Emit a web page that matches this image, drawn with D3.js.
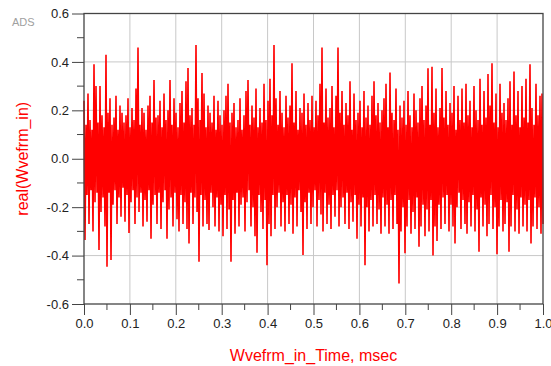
<!DOCTYPE html>
<html>
<head>
<meta charset="utf-8">
<title>Wvefrm_in</title>
<script src="https://d3js.org/d3.v7.min.js"></script>
<style>
  body { margin: 0; background: #fff; }
  svg { display: block; font-family: "Liberation Sans", Arial, sans-serif; }
</style>
</head>
<body>
<svg width="551" height="366"></svg>
<script>
// x ticks (msec) and y ticks
var xTicks = [0, 0.1, 0.2, 0.3, 0.4, 0.5, 0.6, 0.7, 0.8, 0.9, 1.0];
var yTicks = [-0.6, -0.4, -0.2, 0.0, 0.2, 0.4, 0.6];

// positive excursions (even samples)
var peaksHi = [
  0.24, 0.14, 0.27, 0.16, 0.12, 0.39, 0.30, 0.15, 0.30, 0.18,
  0.13, 0.43, 0.19, 0.25, 0.14, 0.17, 0.26, 0.12, 0.22, 0.19,
  0.15, 0.18, 0.25, 0.13, 0.21, 0.16, 0.29, 0.46, 0.14, 0.21,
  0.19, 0.12, 0.22, 0.26, 0.15, 0.325, 0.17, 0.18, 0.24, 0.13,
  0.27, 0.16, 0.20, 0.325, 0.14, 0.25, 0.19, 0.13, 0.23, 0.28,
  0.15, 0.32, 0.375, 0.18, 0.21, 0.14, 0.47, 0.25, 0.16, 0.354,
  0.27, 0.13, 0.22, 0.19, 0.15, 0.26, 0.12, 0.24, 0.18, 0.14,
  0.20, 0.26, 0.31, 0.15, 0.19, 0.23, 0.13, 0.16, 0.25, 0.12,
  0.18, 0.28, 0.325, 0.14, 0.22, 0.17, 0.29, 0.13, 0.21, 0.15,
  0.31, 0.16, 0.24, 0.33, 0.18, 0.47, 0.25, 0.14, 0.28, 0.19,
  0.13, 0.26, 0.17, 0.22, 0.394, 0.15, 0.28, 0.12, 0.21, 0.19,
  0.27, 0.14, 0.23, 0.16, 0.26, 0.13, 0.24, 0.18, 0.31, 0.46,
  0.15, 0.29, 0.17, 0.21, 0.30, 0.13, 0.26, 0.46, 0.19, 0.28,
  0.14, 0.23, 0.18, 0.32, 0.12, 0.27, 0.16, 0.19, 0.24, 0.13,
  0.28, 0.17, 0.22, 0.14, 0.26, 0.32, 0.18, 0.23, 0.15, 0.20,
  0.25, 0.31, 0.13, 0.356, 0.19, 0.16, 0.29, 0.12, 0.22, 0.17,
  0.24, 0.14, 0.28, 0.18, 0.13, 0.27, 0.20, 0.15, 0.25, 0.30,
  0.16, 0.22, 0.374, 0.14, 0.38, 0.19, 0.29, 0.13, 0.21, 0.375,
  0.17, 0.28, 0.14, 0.23, 0.19, 0.30, 0.12, 0.26, 0.16, 0.29,
  0.15, 0.31, 0.18, 0.24, 0.13, 0.30, 0.20, 0.16, 0.33, 0.14,
  0.28, 0.17, 0.35, 0.22, 0.394, 0.15, 0.27, 0.13, 0.31, 0.19,
  0.23, 0.16, 0.25, 0.32, 0.14, 0.36, 0.18, 0.28, 0.13, 0.30,
  0.17, 0.33, 0.15, 0.39, 0.21, 0.14, 0.31, 0.18, 0.26, 0.27
];

// negative excursions (odd samples)
var peaksLo = [
  -0.336, -0.15, -0.27, -0.13, -0.30, -0.18, -0.14, -0.377, -0.22, -0.16,
  -0.28, -0.446, -0.14, -0.418, -0.19, -0.13, -0.27, -0.16, -0.24, -0.12,
  -0.26, -0.15, -0.307, -0.18, -0.13, -0.27, -0.16, -0.22, -0.14, -0.28,
  -0.17, -0.26, -0.13, -0.33, -0.19, -0.15, -0.27, -0.14, -0.29, -0.18,
  -0.13, -0.33, -0.21, -0.16, -0.28, -0.14, -0.25, -0.30, -0.15, -0.27,
  -0.18, -0.29, -0.35, -0.14, -0.27, -0.16, -0.22, -0.425, -0.15, -0.28,
  -0.17, -0.27, -0.294, -0.14, -0.20, -0.28, -0.16, -0.30, -0.19, -0.32,
  -0.15, -0.29, -0.21, -0.425, -0.17, -0.31, -0.14, -0.28, -0.19, -0.16,
  -0.30, -0.18, -0.13, -0.28, -0.20, -0.32, -0.388, -0.15, -0.22, -0.29,
  -0.17, -0.44, -0.27, -0.32, -0.15, -0.29, -0.20, -0.14, -0.28, -0.18,
  -0.30, -0.15, -0.27, -0.19, -0.31, -0.16, -0.28, -0.13, -0.22, -0.398,
  -0.18, -0.29, -0.14, -0.27, -0.20, -0.13, -0.28, -0.17, -0.23, -0.30,
  -0.14, -0.27, -0.19, -0.29, -0.15, -0.24, -0.13, -0.28, -0.20, -0.16,
  -0.27, -0.14, -0.29, -0.18, -0.26, -0.15, -0.33, -0.19, -0.28, -0.16,
  -0.44, -0.20, -0.30, -0.17, -0.28, -0.15, -0.27, -0.21, -0.31, -0.16,
  -0.28, -0.19, -0.31, -0.17, -0.29, -0.15, -0.27, -0.515, -0.30, -0.20,
  -0.39, -0.28, -0.17, -0.31, -0.22, -0.29, -0.16, -0.363, -0.28, -0.19,
  -0.32, -0.21, -0.30, -0.17, -0.40, -0.28, -0.34, -0.19, -0.29, -0.16,
  -0.27, -0.15, -0.30, -0.19, -0.28, -0.35, -0.20, -0.14, -0.29, -0.17,
  -0.27, -0.31, -0.18, -0.28, -0.15, -0.30, -0.21, -0.384, -0.16, -0.28,
  -0.19, -0.32, -0.27, -0.15, -0.29, -0.20, -0.394, -0.28, -0.17, -0.30,
  -0.27, -0.18, -0.384, -0.28, -0.15, -0.30, -0.21, -0.31, -0.16, -0.28,
  -0.19, -0.30, -0.17, -0.35, -0.28, -0.16, -0.29, -0.20, -0.31, -0.27
];

// interleave into one waveform, evenly spaced over 0..1 msec
var wave = [];
peaksHi.forEach(function(v, i) {
  wave.push(v);
  wave.push(peaksLo[i]);
});
var nPts = wave.length;

var svg = d3.select("svg");
var pLeft = 84, pRight = 543, pTop = 13.5, pBottom = 304;

var x = d3.scaleLinear().domain([0, 1]).range([pLeft, pRight]);
var y = d3.scaleLinear().domain([-0.6, 0.6]).range([pBottom, pTop]);

var fmt = function(d) { return d3.format(".1f")(d).replace("\u2212", "-"); };

// grid
svg.append("g").selectAll("line").data(xTicks.slice(1, -1)).enter()
  .append("line")
  .attr("x1", function(d){ return x(d); }).attr("x2", function(d){ return x(d); })
  .attr("y1", pTop).attr("y2", pBottom)
  .attr("stroke", "#c8c8c8").attr("stroke-width", 1);
svg.append("g").selectAll("line").data(yTicks.slice(1, -1)).enter()
  .append("line")
  .attr("x1", pLeft).attr("x2", pRight)
  .attr("y1", function(d){ return y(d); }).attr("y2", function(d){ return y(d); })
  .attr("stroke", "#c8c8c8").attr("stroke-width", 1);

// waveform
var line = d3.line()
  .x(function(d, i){ return x(i / (nPts - 1)); })
  .y(function(d){ return y(d); });
svg.append("path")
  .datum(wave)
  .attr("d", line)
  .attr("fill", "none")
  .attr("stroke", "#ff0000")
  .attr("stroke-width", 1.6);

// axes
var xAxis = d3.axisBottom(x).tickValues(xTicks).tickSize(11).tickPadding(4)
  .tickFormat(fmt);
var yAxis = d3.axisLeft(y).tickValues(yTicks).tickSize(12).tickPadding(3)
  .tickFormat(fmt);

var gx = svg.append("g").attr("transform", "translate(0," + pBottom + ")").call(xAxis);
var gy = svg.append("g").attr("transform", "translate(" + pLeft + ",0)").call(yAxis);

[gx, gy].forEach(function(g) {
  g.select(".domain").remove();
  g.selectAll(".tick line").attr("stroke", "#444");
  g.selectAll(".tick text").attr("fill", "#222").style("font-size", "13px")
    .style("font-family", "'Liberation Sans', Arial, sans-serif");
});

// minor ticks
var xMinor = d3.range(0.05, 1, 0.1);
svg.append("g").selectAll("line").data(xMinor).enter()
  .append("line")
  .attr("x1", function(d){ return x(d); }).attr("x2", function(d){ return x(d); })
  .attr("y1", pBottom).attr("y2", pBottom + 6)
  .attr("stroke", "#444");
var yMinor = [-0.5, -0.3, -0.1, 0.1, 0.3, 0.5];
svg.append("g").selectAll("line").data(yMinor).enter()
  .append("line")
  .attr("x1", pLeft - 7).attr("x2", pLeft)
  .attr("y1", function(d){ return y(d); }).attr("y2", function(d){ return y(d); })
  .attr("stroke", "#444");

// frame
svg.append("rect")
  .attr("x", pLeft).attr("y", pTop)
  .attr("width", pRight - pLeft).attr("height", pBottom - pTop)
  .attr("fill", "none").attr("stroke", "#444").attr("stroke-width", 1.3);

// titles
svg.append("text")
  .attr("x", (pLeft + pRight) / 2).attr("y", 361)
  .attr("text-anchor", "middle")
  .attr("fill", "#ff0000").style("font-size", "16px")
  .text("Wvefrm_in_Time, msec");

svg.append("text")
  .attr("transform", "translate(28," + ((pTop + pBottom) / 2) + ") rotate(-90)")
  .attr("text-anchor", "middle")
  .attr("fill", "#ff0000").style("font-size", "16px")
  .text("real(Wvefrm_in)");

svg.append("text")
  .attr("x", 12).attr("y", 26)
  .attr("fill", "#a0a0a0").style("font-size", "11px")
  .text("ADS");
</script>
</body>
</html>
